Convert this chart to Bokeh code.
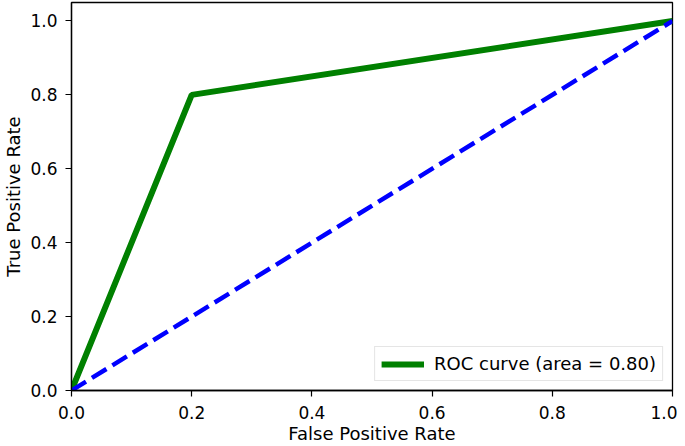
from bokeh.plotting import figure
from bokeh.models import Range1d, FixedTicker, Legend, LegendItem
from bokeh.embed import file_html
from bokeh.resources import INLINE

# data
fpr = [0.0, 0.2, 1.0]
tpr = [0.0, 0.8, 1.0]
chance_x = [0.0, 1.0]
chance_y = [0.0, 1.0]
tick_values = [0.0, 0.2, 0.4, 0.6, 0.8, 1.0]
tick_labels = ["0.0", "0.2", "0.4", "0.6", "0.8", "1.0"]
legend_label = "ROC curve (area = 0.80)"
x_title = "False Positive Rate"
y_title = "True Positive Rate"

FONT = "DejaVu Sans"

p = figure(width=677, height=446, output_backend="svg", toolbar_location=None,
           x_range=Range1d(0, 1.0), y_range=Range1d(0, 1.05),
           min_border_left=62, min_border_right=5, min_border_top=2,
           min_border_bottom=54)
p.background_fill_color = "white"
p.border_fill_color = "white"
p.outline_line_color = "black"
p.outline_line_width = 1.3
p.grid.visible = False

roc = p.line(fpr, tpr, line_color="green", line_width=6)
p.line(chance_x, chance_y, line_color="blue", line_width=4.5, line_dash="17 7")

for ax, title in ((p.xaxis[0], x_title), (p.yaxis[0], y_title)):
    ax.ticker = FixedTicker(ticks=tick_values)
    ax.major_label_overrides = {v: l for v, l in zip(tick_values, tick_labels)}
    ax.minor_tick_line_color = None
    ax.major_tick_in = 0
    ax.major_tick_out = 6
    ax.major_tick_line_color = "black"
    ax.major_tick_line_width = 1.2
    ax.axis_line_color = "black"
    ax.axis_line_width = 1.3
    ax.major_label_text_font = FONT
    ax.major_label_text_font_size = "17px"
    ax.major_label_text_color = "black"
    ax.axis_label = title
    ax.axis_label_text_font = FONT
    ax.axis_label_text_font_size = "18px"
    ax.axis_label_text_font_style = "normal"
    ax.axis_label_text_color = "black"
    ax.axis_label_text_line_height = 1.0

p.xaxis.major_label_standoff = 9
p.xaxis.axis_label_standoff = 1
p.yaxis.major_label_standoff = 8
p.yaxis.axis_label_standoff = 3

legend = Legend(items=[LegendItem(label=legend_label, renderers=[roc])],
                location="bottom_right")
legend.label_text_font = FONT
legend.label_text_font_size = "18px"
legend.label_text_color = "black"
legend.glyph_width = 43
legend.glyph_height = 20
legend.label_height = 20
legend.label_standoff = 10
legend.padding = 6
legend.margin = 9
legend.border_line_color = "#cccccc"
legend.border_line_width = 1
legend.background_fill_alpha = 0.8
p.add_layout(legend)

open("out.html", "w").write(file_html(p, INLINE))
